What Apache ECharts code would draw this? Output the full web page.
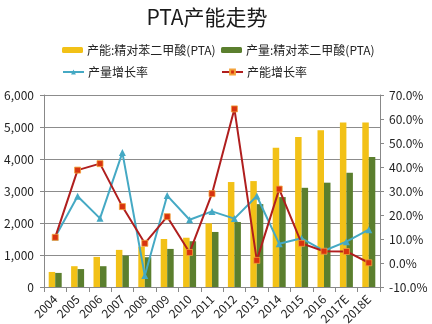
<!DOCTYPE html>
<html>
<head>
<meta charset="utf-8">
<script src="https://cdn.jsdelivr.net/npm/echarts@6/dist/echarts.min.js"></script>
<style>
  html, body { margin: 0; padding: 0; background: #fff; }
  #chart { width: 432px; height: 324px; }
</style>
</head>
<body>
<div id="chart"></div>
<script>
// PTA capacity / output (万吨) and growth rates, 2004–2018E
var years = ['2004', '2005', '2006', '2007', '2008', '2009', '2010', '2011', '2012', '2013', '2014', '2015', '2016', '2017E', '2018E'];
var capacity = [470, 650, 940, 1160, 1260, 1500, 1540, 1990, 3280, 3310, 4350, 4690, 4900, 5140, 5140];
var output = [440, 560, 650, 980, 930, 1190, 1430, 1720, 2030, 2590, 2810, 3100, 3260, 3570, 4060];
var outputGrowth = [10.8, 27.8, 18.6, 46.0, -5.2, 28.1, 18.0, 21.5, 18.5, 27.9, 8.0, 10.3, 5.1, 8.9, 13.9];
var capacityGrowth = [10.7, 38.7, 41.4, 23.5, 8.2, 19.3, 4.4, 28.9, 64.2, 1.1, 30.8, 8.2, 4.9, 4.8, 0.1];
var leftTicks = { min: 0, max: 6000, interval: 1000 };
var rightTicks = { min: -10, max: 70, interval: 10 };

var names = ['产能:精对苯二甲酸(PTA)', '产量:精对苯二甲酸(PTA)', '产量增长率', '产能增长率'];
var C_YELLOW = '#F2C117', C_GREEN = '#5B7F2E', C_CYAN = '#45A9C4', C_RED = '#B01E1E';
var FONT = '"Noto Sans CJK SC", "Noto Sans", sans-serif';

function legendAt(name, left, top) {
  return {
    data: [name], left: left, top: top, itemWidth: 21, itemHeight: 6, itemGap: 4,
    textStyle: { fontFamily: FONT, fontSize: 12, color: '#222', padding: [0, 0, 0, -1] },
    padding: 0
  };
}

var chart = echarts.init(document.getElementById('chart'), null, { renderer: 'canvas' });
chart.setOption({
  backgroundColor: '#fff',
  animation: false,
  title: {
    text: 'PTA产能走势', left: 202, top: 2, textAlign: 'center',
    textStyle: { fontFamily: FONT, fontSize: 21, fontWeight: 'normal', color: '#1a1a1a' }
  },
  legend: [
    legendAt(names[0], 62, 44),
    legendAt(names[1], 221, 44),
    legendAt(names[2], 62, 66),
    legendAt(names[3], 221, 66)
  ],
  grid: { left: 44, right: 52, top: 95, bottom: 37, containLabel: false, outerBoundsMode: 'none' },
  xAxis: {
    type: 'category', data: years, boundaryGap: true,
    axisLine: { lineStyle: { color: '#888', width: 1 } },
    axisTick: { show: true, length: 5, lineStyle: { color: '#888' } },
    axisLabel: { rotate: 45, interval: 0, margin: 10, fontFamily: FONT, fontSize: 12, color: '#222' }
  },
  yAxis: [
    {
      type: 'value', min: leftTicks.min, max: leftTicks.max, interval: leftTicks.interval,
      axisLine: { show: true, lineStyle: { color: '#888' } },
      axisTick: { show: true, length: 4, lineStyle: { color: '#888' } },
      splitLine: { lineStyle: { color: '#8c8c8c', width: 1 } },
      axisLabel: {
        margin: 10, fontFamily: FONT, fontSize: 12, color: '#222',
        formatter: function (v) { return v.toLocaleString('en-US'); }
      }
    },
    {
      type: 'value', min: rightTicks.min, max: rightTicks.max, interval: rightTicks.interval,
      axisLine: { show: true, lineStyle: { color: '#888' } },
      axisTick: { show: true, length: 4, lineStyle: { color: '#888' } },
      splitLine: { show: false },
      axisLabel: {
        margin: 9, fontFamily: FONT, fontSize: 12, color: '#222',
        formatter: function (v) { return v.toFixed(1) + '%'; }
      }
    }
  ],
  series: [
    {
      name: names[0], type: 'bar', yAxisIndex: 0, data: capacity,
      barWidth: 6.5, barGap: '0%', itemStyle: { color: C_YELLOW }
    },
    {
      name: names[1], type: 'bar', yAxisIndex: 0, data: output,
      barWidth: 6.5, barGap: '0%', itemStyle: { color: C_GREEN }
    },
    {
      name: names[2], type: 'line', yAxisIndex: 1, data: outputGrowth,
      symbol: 'triangle', symbolSize: 7, z: 3,
      lineStyle: { color: C_CYAN, width: 2 },
      itemStyle: { color: C_CYAN }
    },
    {
      name: names[3], type: 'line', yAxisIndex: 1, data: capacityGrowth,
      symbol: 'rect', symbolSize: 6, z: 4,
      lineStyle: { color: C_RED, width: 2 },
      itemStyle: { color: '#D8330F', borderColor: '#F3A23A', borderWidth: 0.8 }
    }
  ]
});
</script>
</body>
</html>
